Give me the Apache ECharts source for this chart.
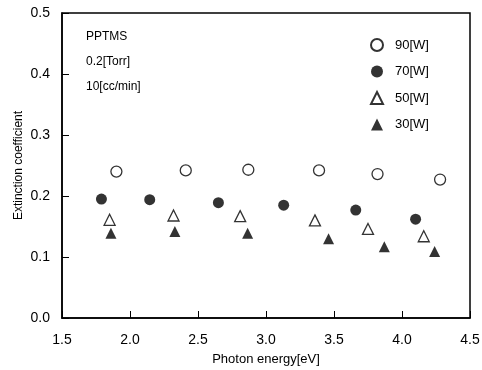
<!DOCTYPE html>
<html><head><meta charset="utf-8">
<script src="https://cdn.jsdelivr.net/npm/echarts@6/dist/echarts.min.js"></script>
<style>html,body{margin:0;padding:0;background:#fff}#c{width:482px;height:370px}</style>
</head><body><div id="c"></div>
<script>
const seriesNames = ['90[W]', '70[W]', '50[W]', '30[W]'];
const w90 = [[1.90,0.240],[2.41,0.242],[2.87,0.243],[3.39,0.242],[3.82,0.236],[4.28,0.227]];
const w70 = [[1.79,0.195],[2.145,0.194],[2.65,0.189],[3.13,0.185],[3.66,0.177],[4.10,0.162]];
const w50 = [[1.85,0.161],[2.32,0.168],[2.81,0.167],[3.36,0.160],[3.75,0.146],[4.16,0.134]];
const w30 = [[1.86,0.139],[2.33,0.142],[2.865,0.139],[3.46,0.130],[3.87,0.117],[4.24,0.109]];
const notes = ['PPTMS', '0.2[Torr]', '10[cc/min]'];

const font = 'Liberation Sans, Arial, sans-serif';
const chart = echarts.init(document.getElementById('c'));
const mk = (name, data, symbol, filled, size) => ({
  name, type: 'scatter', data, symbol, symbolSize: size,
  itemStyle: { color: filled ? '#000' : '#fff', borderColor: '#000', borderWidth: filled ? 0 : 1.3 }
});
chart.setOption({
  animation: false,
  grid: { left: 62, right: 12, top: 13, bottom: 52, show: true, borderColor: '#000', borderWidth: 1.5,
          backgroundColor: 'transparent', containLabel: false, outerBoundsMode: 'none' },
  legend: {
    orient: 'vertical', left: 365, top: 33, itemGap: 13, itemWidth: 12, itemHeight: 12,
    textStyle: { fontFamily: font, fontSize: 13, color: '#000', padding: [0, 0, 0, 7] },
    data: seriesNames
  },
  xAxis: {
    type: 'value', min: 1.5, max: 4.5, interval: 0.5,
    name: 'Photon energy[eV]', nameLocation: 'middle', nameGap: 35, nameMoveOverlap: false,
    nameTextStyle: { fontFamily: font, fontSize: 13, color: '#000' },
    axisLine: { lineStyle: { color: '#000', width: 1.5 } },
    axisTick: { inside: true, length: 7, lineStyle: { color: '#000' } },
    axisLabel: { fontFamily: font, fontSize: 14, color: '#000', margin: 15, formatter: v => v.toFixed(1) },
    splitLine: { show: false }
  },
  yAxis: {
    type: 'value', min: 0, max: 0.5, interval: 0.1,
    name: 'Extinction coefficient', nameLocation: 'middle', nameGap: 37, nameMoveOverlap: false,
    nameTextStyle: { fontFamily: font, fontSize: 12, color: '#000' },
    axisLine: { lineStyle: { color: '#000', width: 1.5 } },
    axisTick: { inside: true, length: 7, lineStyle: { color: '#000' } },
    axisLabel: { fontFamily: font, fontSize: 14, color: '#000', margin: 12, formatter: v => v.toFixed(1) },
    splitLine: { show: false }
  },
  graphic: notes.map((t, i) => ({
    type: 'text', left: 86, top: 31 + i * 25,
    style: { text: t, font: '12px ' + font, fill: '#000' }
  })),
  series: [
    mk(seriesNames[0], w90, 'circle', false, 11),
    mk(seriesNames[1], w70, 'circle', true, 11),
    mk(seriesNames[2], w50, 'triangle', false, 11),
    mk(seriesNames[3], w30, 'triangle', true, 11)
  ]
});
</script></body></html>
